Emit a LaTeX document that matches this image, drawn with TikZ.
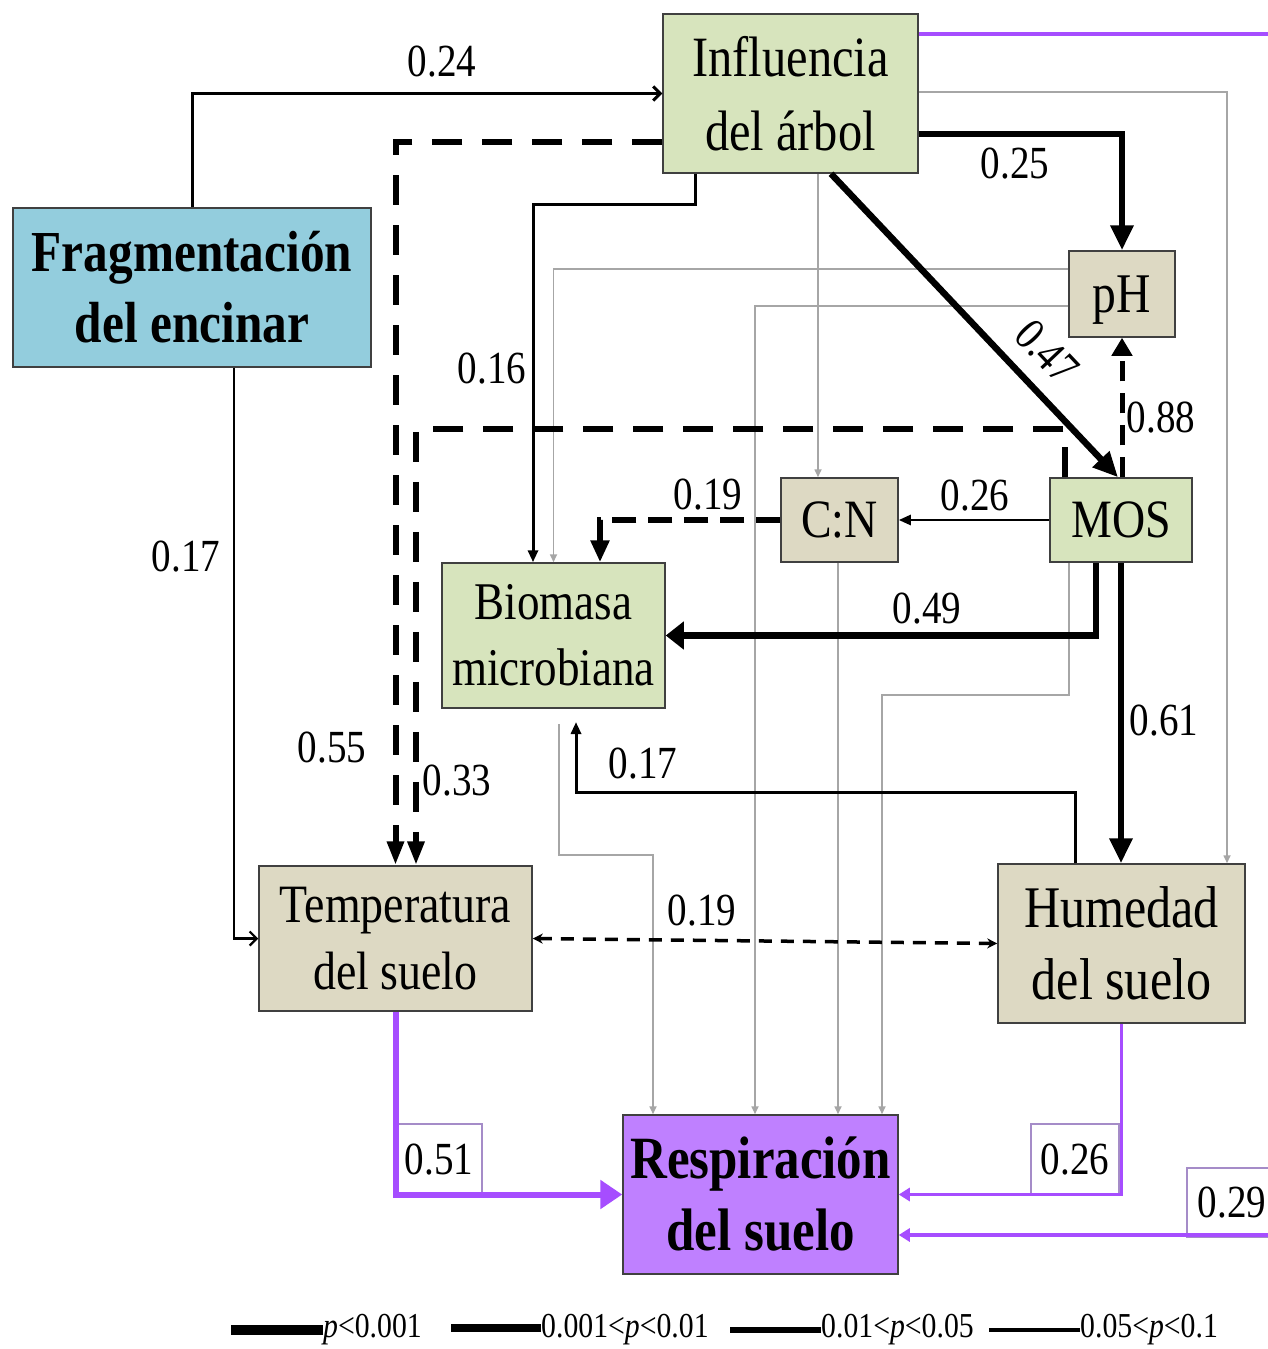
\documentclass[tikz,border=0pt]{standalone}
\usepackage{fontspec}
\setmainfont{Liberation Serif}[FakeStretch=0.85]
\usetikzlibrary{arrows.meta}
\definecolor{fragblue}{HTML}{93CDDD}
\definecolor{leafgreen}{HTML}{D7E4BD}
\definecolor{sandbeige}{HTML}{DDD9C3}
\definecolor{respfill}{HTML}{BF80FF}
\definecolor{purpline}{HTML}{A64DFF}
\definecolor{pboxline}{HTML}{A58CC8}
\definecolor{greyline}{HTML}{A6A6A6}
\definecolor{boxline}{HTML}{404040}
\begin{document}
\begin{tikzpicture}[x=1pt,y=-1pt,
  box/.style={draw=boxline, line width=1.5pt, align=center, inner sep=0pt},
  num/.style={font=\fontsize{46}{50}\selectfont, inner sep=0pt},
  numbox/.style={draw=pboxline, line width=1.5pt, fill=white, font=\fontsize{46}{50}\selectfont, inner sep=0pt},
  leg/.style={font=\fontsize{35}{40}\selectfont, anchor=west, inner sep=0pt},
  lvA/.style={line width=6.5pt},
  lvB/.style={line width=3pt},
  lvC/.style={line width=2.5pt},
  lvD/.style={line width=1.6pt, draw=greyline},
  bigdash/.style={line width=6pt, dash pattern=on 30pt off 20pt},
  bigtip/.style={-{Triangle[length=25pt,width=22pt]}},
  midtip/.style={-{Triangle[length=22pt,width=18pt]}},
  smalltip/.style={-{Triangle[length=12pt,width=10pt]}},
  greytip/.style={-{Triangle[length=8pt,width=7pt]}},
  barbtip/.style={-{Straight Barb[length=7pt,width=14pt]}},
  ptip/.style={-{Triangle[length=11pt,width=13pt]}}
]
\useasboundingbox[fill=white] (0,0) rectangle (1267,1349);

% ---------- nodes ----------
\node[box, fill=fragblue, minimum width=358pt, minimum height=159pt,
      font=\fontsize{58}{71}\selectfont\bfseries] (frag) at (192,287.5) {Fragmentación\\del encinar};
\node[box, fill=leafgreen, minimum width=255pt, minimum height=159pt,
      font=\fontsize{57}{74}\selectfont] (infl) at (790.5,93.5) {Influencia\\del árbol};
\node[box, fill=sandbeige, minimum width=106pt, minimum height=86pt, text depth=0pt,
      font=\fontsize{56}{60}\selectfont] (ph) at (1122,294) {pH};
\node[box, fill=leafgreen, minimum width=142pt, minimum height=84pt,
      font=\fontsize{54}{60}\selectfont] (mos) at (1121,520) {MOS};
\node[box, fill=sandbeige, minimum width=117pt, minimum height=84pt,
      font=\fontsize{54}{60}\selectfont] (cn) at (839.5,520) {C:N};
\node[box, fill=leafgreen, minimum width=223pt, minimum height=145pt,
      font=\fontsize{53}{66}\selectfont] (bio) at (553.5,635.5) {Biomasa\\microbiana};
\node[box, fill=sandbeige, minimum width=273pt, minimum height=145pt,
      font=\fontsize{54}{67}\selectfont] (temp) at (395.5,938.5) {Temperatura\\del suelo};
\node[box, fill=sandbeige, minimum width=247pt, minimum height=159pt,
      font=\fontsize{59}{72}\selectfont] (hum) at (1121.5,943.5) {Humedad\\del suelo};
\node[box, fill=respfill, minimum width=275pt, minimum height=159pt,
      font=\fontsize{60}{72}\selectfont\bfseries] (resp) at (760.5,1194.5) {Respiración\\del suelo};

% boxed coefficients (drawn under the purple lines)
\node[numbox, minimum width=86pt, minimum height=71pt] (b051) at (439,1159.5) {0.51};
\node[numbox, minimum width=88pt, minimum height=71pt] (b026) at (1075,1159.5) {0.26};
\node[numbox, minimum width=90pt, minimum height=69pt] (b029) at (1232,1202.5) {0.29};

% ---------- grey paths (0.05<p<0.1) ----------
\draw[lvD, greytip] (infl.east |- 0,92) -| (hum.north -| 1227,0);
\draw[lvD, greytip] (infl.south -| 818,0) -- (cn.north -| 818,0);
\draw[lvD, greytip] (ph.west |- 0,269) -| (bio.north);
\draw[lvD, greytip] (ph.west |- 0,306) -| (resp.north -| 755,0);
\draw[lvD, greytip] (cn.south -| 838,0) -- (resp.north -| 838,0);
\draw[lvD, greytip] (mos.south -| 1069,0) -- (1069,695) -| (resp.north -| 882,0);
\coordinate (b2r) at (559,724);
\draw[lvD, greytip] (b2r) |- (653,855) -- (resp.north -| 653,0);

% ---------- black paths ----------
\draw[lvB, barbtip] (frag.north) |- (infl.west);
\draw[line width=2.2pt, barbtip] (frag.south -| 234,0) |- (temp.west);
\draw[bigdash, -{Triangle[length=24pt,width=16pt]}] (infl.west |- 0,142) -| (temp.north);
\draw[bigdash, -{Triangle[length=24pt,width=16pt]}] (mos.north -| 1065,0) |- (416,429) -- (temp.north -| 416,0);
\draw[lvB, smalltip] (infl.south -| 695,0) |- (533,204) -- (bio.north -| 533,0);
\draw[lvA, bigtip] (infl.east |- 0,134) -| (ph.north);
\draw[lvA, bigtip] (infl.south -| 831,0) -- (mos.north -| 1118,0);
\draw[line width=5pt, dash pattern=on 20pt off 12pt, -{Triangle[length=18pt,width=20pt]}] (ph.south |- mos.north) -- (ph.south);
\draw[lvC, smalltip] (mos.west) -- (cn.east);
\draw[line width=5.5pt, dash pattern=on 24pt off 12pt, midtip] (cn.west) -| (bio.north -| 600,0);
\draw[lvA, -{Triangle[length=18pt,width=27pt]}] (mos.south -| 1096,0) |- (bio.east);
\draw[lvA, bigtip] (mos.south) -- (mos.south |- hum.north);
\coordinate (h2b) at (576,722);
\draw[lvB, smalltip] (hum.north -| 1075,0) -- (1075,792) -| (h2b);
\draw[line width=3.5pt, dash pattern=on 13pt off 9pt,
      {Stealth[length=10pt,width=10pt]}-{Stealth[length=10pt,width=10pt]}] (temp.east) -- (hum.west);

% ---------- purple paths ----------
\draw[purpline, line width=6pt, -{Triangle[length=22pt,width=28pt]}] (temp.south) |- (resp.west);
\draw[purpline, line width=3.5pt, ptip] (hum.south) |- (resp.east);
\draw[purpline, line width=4pt, ptip] (infl.east |- 0,34) -| (1290,1235) -- (resp.east |- 0,1235);

% ---------- coefficients ----------
\node[num] (l024) at (442,62) {0.24};
\node[num] (l017a) at (186,557) {0.17};
\node[num] (l055) at (332,748) {0.55};
\node[num] (l033) at (457,781) {0.33};
\node[num] (l016) at (492,369) {0.16};
\node[num] (l025) at (1015,164) {0.25};
\node[num, rotate=-46.6] (l047) at (1047,352) {0.47};
\node[num] (l088) at (1161,418) {0.88};
\node[num] (l026) at (975,496) {0.26};
\node[num] (l019a) at (708,495) {0.19};
\node[num] (l049) at (927,609) {0.49};
\node[num] (l061) at (1164,721) {0.61};
\node[num] (l017b) at (643,764) {0.17};
\node[num] (l019b) at (702,911) {0.19};

% ---------- legend ----------
\node[leg] (lg1) at (323,1330) {\textit{p}<0.001};
\node[leg] (lg2) at (541,1330) {0.001<\textit{p}<0.01};
\node[leg] (lg3) at (821,1330) {0.01<\textit{p}<0.05};
\node[leg] (lg4) at (1080,1330) {0.05<\textit{p}<0.1};
\draw[line width=10pt] (lg1.west) -- ++(-92,0);
\draw[line width=8pt] ([yshift=2pt]lg2.west) -- ++(-90,0);
\draw[line width=6pt] (lg3.west) -- ++(-91,0);
\draw[line width=4pt] (lg4.west) -- ++(-91,0);
\end{tikzpicture}
\end{document}
